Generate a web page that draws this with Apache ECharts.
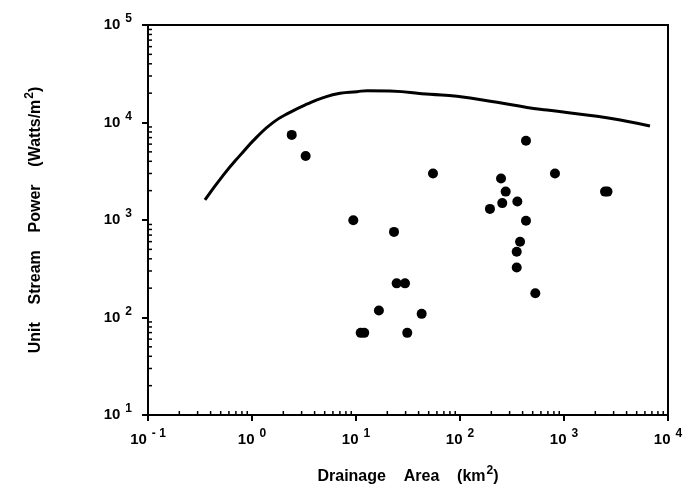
<!DOCTYPE html>
<html>
<head>
    <meta charset="utf-8"/>
    <title>Unit Stream Power</title>
    <script src="https://cdn.jsdelivr.net/npm/echarts@6/dist/echarts.min.js"></script>
</head>
<body style="margin:0;background:#fff">
<div id="main" style="width: 694px; height: 490px;"></div>
<script type="text/javascript">
    // drainage area (km2) / unit stream power (W/m2) for the sites
    var siteArea = [2.41, 3.28, 9.42, 23.2, 24.6, 29.6, 16.6, 42.8, 11.1, 12.0, 31.1,
        55, 431, 819, 248, 275, 255, 356, 194, 431, 2480, 2620, 378, 351, 351, 530];
    var sitePower = [7460, 4540, 993, 755, 224, 224, 118, 109, 69.6, 69.6, 69.6,
        3000, 6490, 3000, 2670, 1955, 1490, 1550, 1300, 984, 1955, 1955, 598, 473, 326, 177];

    // envelope curve
    var curveArea = [0.353, 0.53, 0.767, 1.11, 1.6, 2.32, 3.36, 4.85, 7.02, 10.2, 12.8,
        21.2, 51.5, 93.5, 227, 441, 687, 2075, 3776, 6710];
    var curvePower = [1607, 2884, 4600, 7080, 10040, 12700, 15400, 18000, 19950, 20700, 21200,
        21000, 19450, 18600, 16100, 14260, 13400, 11600, 10400, 9200];

    // tick decades
    var xTickExps = [-1, 0, 1, 2, 3, 4];
    var yTickExps = [1, 2, 3, 4, 5];
    var minorSteps = [2, 3, 4, 5, 6, 7, 8, 9];

    var xMin = Math.pow(10, xTickExps[0]), xMax = Math.pow(10, xTickExps[xTickExps.length - 1]);
    var yMin = Math.pow(10, yTickExps[0]), yMax = Math.pow(10, yTickExps[yTickExps.length - 1]);

    var xMinor = [], yMinor = [];
    xTickExps.slice(0, -1).forEach(function (e) {
        minorSteps.forEach(function (m) { xMinor.push([m * Math.pow(10, e), yMin]); });
    });
    yTickExps.slice(0, -1).forEach(function (e) {
        minorSteps.forEach(function (m) { yMinor.push([xMin, m * Math.pow(10, e)]); });
    });

    var font = '"Liberation Sans", Arial, sans-serif';
    var supRich = {
        base: {fontSize: 15, fontWeight: 'bold', fontFamily: font, color: '#000'},
        sup: {fontSize: 12, fontWeight: 'bold', fontFamily: font, color: '#000', padding: [0, 0, 12, 5]}
    };

    function powLabel(v) {
        var e = Math.round(Math.log10(v));
        return '{base|10}{sup|' + (e < 0 ? '- ' + (-e) : e) + '}';
    }

    function tickRender(dir) {
        return function (params, api) {
            var p = api.coord([api.value(0), api.value(1)]);
            var q = dir === 'x' ? [p[0], p[1] - 4] : [p[0] + 4, p[1]];
            return {
                type: 'line',
                shape: {x1: p[0], y1: p[1], x2: q[0], y2: q[1]},
                style: {stroke: '#000', lineWidth: 1.5}
            };
        };
    }

    var chart = echarts.init(document.getElementById('main'));
    var option = {
        backgroundColor: '#fff',
        animation: false,
        grid: {
            left: 148, right: 26, top: 25, bottom: 71,
            show: true, borderColor: '#000', borderWidth: 2
        },
        xAxis: {
            type: 'log',
            min: xMin,
            max: xMax,
            logBase: 10,
            name: 'Drainage    Area    (km{sup|2})',
            nameLocation: 'middle',
            nameGap: 50,
            nameTextStyle: {
                fontSize: 16, fontWeight: 'bold', fontFamily: font, color: '#000',
                rich: {sup: {fontSize: 12, fontWeight: 'bold', fontFamily: font, padding: [0, 0, 12, 1]}}
            },
            axisLine: {lineStyle: {color: '#000', width: 2}},
            axisTick: {length: 6, lineStyle: {color: '#000', width: 2}},
            splitLine: {show: false},
            axisLabel: {margin: 13, formatter: powLabel, rich: supRich}
        },
        yAxis: {
            type: 'log',
            min: yMin,
            max: yMax,
            logBase: 10,
            name: 'Unit    Stream    Power    (Watts/m{sup|2})',
            nameLocation: 'middle',
            nameGap: 100,
            nameTextStyle: {
                fontSize: 16, fontWeight: 'bold', fontFamily: font, color: '#000',
                rich: {sup: {fontSize: 12, fontWeight: 'bold', fontFamily: font, padding: [0, 0, 12, 1]}}
            },
            axisLine: {lineStyle: {color: '#000', width: 2}},
            axisTick: {length: 6, lineStyle: {color: '#000', width: 2}},
            splitLine: {show: false},
            axisLabel: {margin: 16, formatter: powLabel, rich: supRich}
        },
        series: [
            {
                type: 'custom',
                silent: true,
                clip: false,
                renderItem: tickRender('x'),
                data: xMinor,
                z: 1
            },
            {
                type: 'custom',
                silent: true,
                clip: false,
                renderItem: tickRender('y'),
                data: yMinor,
                z: 1
            },
            {
                type: 'line',
                smooth: true,
                symbol: 'none',
                lineStyle: {color: '#000', width: 3},
                data: curveArea.map(function (a, i) { return [a, curvePower[i]]; }),
                z: 3
            },
            {
                type: 'scatter',
                symbol: 'circle',
                symbolSize: 10,
                itemStyle: {color: '#000', opacity: 1},
                data: siteArea.map(function (a, i) { return [a, sitePower[i]]; }),
                z: 4
            }
        ]
    };
    chart.setOption(option);
</script>
</body>
</html>
